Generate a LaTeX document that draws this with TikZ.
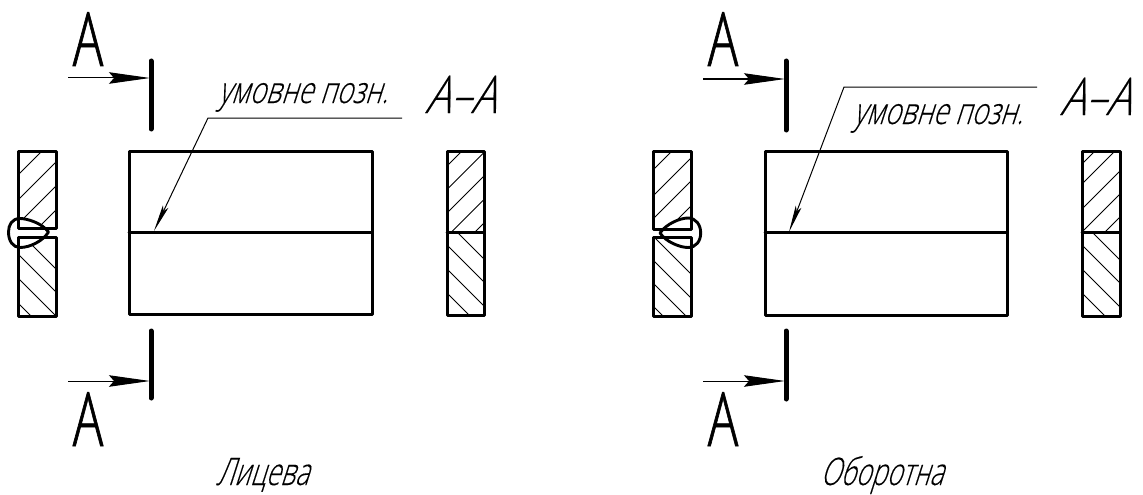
\documentclass[tikz,border=0pt]{standalone}
\usepackage{fontspec}
\usetikzlibrary{arrows.meta}
\setmainfont{Liberation Sans}
\newfontfamily\gost[FakeStretch=0.68,FakeBold=0.8]{Open Sans Light}
\newfontfamily\gostn[FakeStretch=0.74,FakeSlant=0.32,FakeBold=0.2]{Open Sans Light}
\newfontfamily\gostt[FakeStretch=0.69,FakeSlant=0.32,FakeBold=0.2]{Open Sans Light}
\newfontfamily\gosts[FakeStretch=0.8,FakeSlant=0.32,FakeBold=0.2]{Open Sans Light}
\tikzset{
  x=1pt,y=-1pt,
  outline/.style={line width=3pt,line join=round,line cap=round},
  hatch/.style={line width=0.9pt},
  weld/.style={line width=2.9pt,line join=round},
  cut/.style={line width=5pt,line cap=round},
  leader/.style={line width=1pt,{Stealth[length=27pt,width=6pt,inset=5pt]}-},
  cutarrow/.style={line width=1pt,-{Stealth[length=41pt,width=11.5pt,inset=5pt]}},
  big/.style={font=\gost\fontsize{75}{75}\selectfont,inner sep=0pt,anchor=base},
  note/.style={font=\gostn\fontsize{37}{37}\selectfont,inner sep=0pt,anchor=base west},
  title/.style={font=\gostt\fontsize{38}{38}\selectfont,inner sep=0pt,anchor=base west},
  sect/.style={font=\gosts\fontsize{52}{52}\selectfont,inner sep=0pt,anchor=base west},
}
\newcommand{\hatchup}[5]{%
  \begin{scope}
    \clip (#1,#3) rectangle (#2,#4);
    \foreach \c in {#5} \draw[hatch] (\c-100,100) -- (\c-400,400);
  \end{scope}}
\newcommand{\hatchdown}[5]{%
  \begin{scope}
    \clip (#1,#3) rectangle (#2,#4);
    \foreach \c in {#5} \draw[hatch] (\c+100,100) -- (\c+400,400);
  \end{scope}}
\begin{document}
\begin{tikzpicture}
\useasboundingbox (0,0) rectangle (1143,495);
\fill[white] (0,0) rectangle (1143,495);

% ---------- left drawing ----------
\node[big] (a1) at (88,66) {A};
\node[big] (a2) at (88,446) {A};
\coordinate (c1t) at (151,61); \coordinate (c1b) at (151,129);
\coordinate (c2t) at (151,331); \coordinate (c2b) at (151,398);
\draw[cut] (c1t) -- (c1b); \draw[cut] (c2t) -- (c2b);
\coordinate (s1) at (68,78); \coordinate (e1) at (150,78);
\coordinate (s2) at (68,381); \coordinate (e2) at (150,381);
\draw[cutarrow] (s1) -- (e1); \draw[cutarrow] (s2) -- (e2);

% welded section
\hatchup{18}{56}{151}{228}{193,218,242,266}
\hatchdown{18}{56}{237}{316}{-213,-236,-260,-285}
\path[fill=white] (48.5,232) .. controls (42,223) and (27,218.5) .. (20,218.5)
  .. controls (12,218.5) and (8.5,225) .. (8.5,232)
  .. controls (8.5,241) and (13,247.5) .. (20,247.5)
  .. controls (30,247.5) and (43,241) .. (48.5,232) -- cycle;
\draw[outline] (18,228) -- (18,151) -- (56,151) -- (56,228) -- cycle;
\draw[outline] (18,237) -- (18,316) -- (56,316) -- (56,237) -- cycle;
\draw[weld] (48.5,232) .. controls (42,223) and (27,218.5) .. (20,218.5)
  .. controls (12,218.5) and (8.5,225) .. (8.5,232)
  .. controls (8.5,241) and (13,247.5) .. (20,247.5)
  .. controls (30,247.5) and (43,241) .. (48.5,232) -- cycle;

% plate
\draw[outline] (129,151) rectangle (372,314);
\draw[outline] (129,232) -- (372,232);
\coordinate (t1) at (154,231); \coordinate (b1) at (208,118); \coordinate (l1) at (402,118);
\draw[leader] (t1) -- (b1) -- (l1);
\node[note] (n1) at (218,103) {умовне позн.};
\node[sect] (aa1) at (425,113) {А–А};

% section A-A
\hatchup{447}{484}{151}{232}{613,636.5,660,683.5,707}
\hatchdown{447}{484}{232}{315}{225,202,178,154}
\draw[outline] (447,151) rectangle (484,315);
\draw[outline] (447,232) -- (484,232);

\node[title] (t1a) at (216,485) {Лицева};

% ---------- right drawing ----------
\node[big] (a3) at (723,66) {A};
\node[big] (a4) at (723,446) {A};
\coordinate (c3t) at (786,61); \coordinate (c3b) at (786,130);
\coordinate (c4t) at (786,331); \coordinate (c4b) at (786,399);
\draw[cut] (c3t) -- (c3b); \draw[cut] (c4t) -- (c4b);
\coordinate (s3) at (703,79); \coordinate (e3) at (785,79);
\coordinate (s4) at (703,381); \coordinate (e4) at (785,381);
\draw[cutarrow] (s3) -- (e3); \draw[cutarrow] (s4) -- (e4);

\hatchup{653}{691}{151}{229}{823,849,872,897}
\hatchdown{653}{691}{237}{316}{417,393,370,347}
\path[fill=white] (660,233) .. controls (666,224) and (680,218) .. (688,218)
  .. controls (696,218) and (700.7,225) .. (700.7,233)
  .. controls (700.7,241) and (696,247.5) .. (688,247.5)
  .. controls (680,247.5) and (666,242) .. (660,233) -- cycle;
\draw[outline] (653,229) -- (653,151) -- (691,151) -- (691,229) -- cycle;
\draw[outline] (653,237) -- (653,316) -- (691,316) -- (691,237) -- cycle;
\draw[weld] (660,233) .. controls (666,224) and (680,218) .. (688,218)
  .. controls (696,218) and (700.7,225) .. (700.7,233)
  .. controls (700.7,241) and (696,247.5) .. (688,247.5)
  .. controls (680,247.5) and (666,242) .. (660,233) -- cycle;

\draw[outline] (765,151) rectangle (1007,315);
\draw[outline] (765,232.5) -- (1007,232.5);
\coordinate (t2) at (789,232); \coordinate (b2) at (844,87); \coordinate (l2) at (1037,87);
\draw[leader] (t2) -- (b2) -- (l2);
\node[note] (n2) at (853,124) {умовне позн.};
\node[sect] (aa2) at (1060,115) {А–А};

\hatchup{1082}{1120}{151}{232}{1246,1266,1291,1314,1337}
\hatchdown{1082}{1120}{232}{316}{860,837,813,789}
\draw[outline] (1082,151) rectangle (1120,316);
\draw[outline] (1082,232) -- (1120,232);

\node[title] (t2a) at (820,485) {Оборотна};
\end{tikzpicture}
\end{document}
